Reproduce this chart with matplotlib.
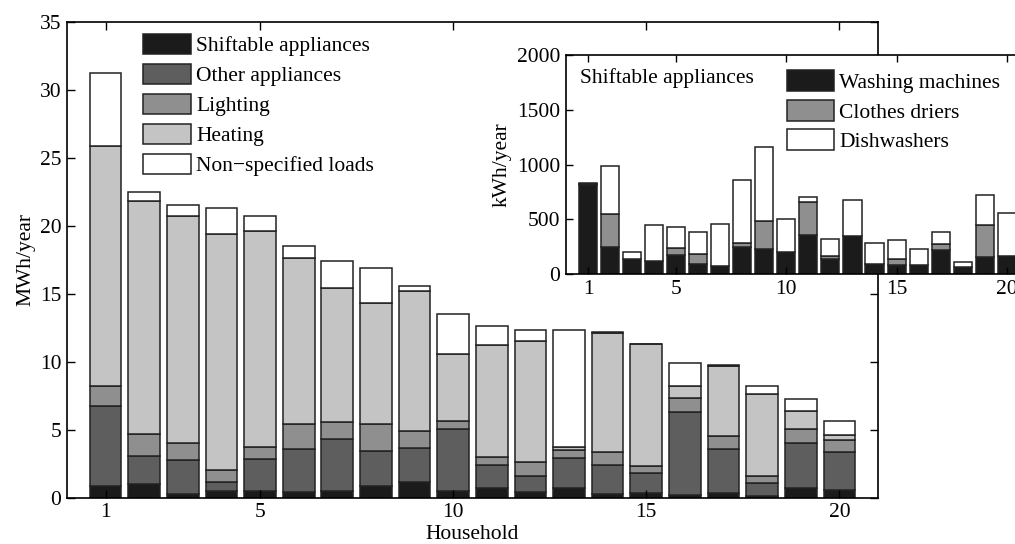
import numpy as np
import matplotlib
matplotlib.use('Agg')
import matplotlib.pyplot as plt

# Consommation annuelle par foyer (MWh/an), du bas vers le haut de chaque barre
foyers = np.arange(1, 21)
shiftable = [0.88, 1.03, 0.30, 0.50, 0.47, 0.45, 0.50, 0.88, 1.18, 0.50,
             0.75, 0.40, 0.75, 0.30, 0.37, 0.22, 0.37, 0.15, 0.75, 0.59]
other = [5.88, 2.05, 2.50, 0.67, 2.40, 3.15, 3.80, 2.57, 2.50, 4.57,
         1.65, 1.20, 2.15, 2.10, 1.46, 6.08, 3.23, 0.95, 3.25, 2.79]
lighting = [1.48, 1.62, 1.20, 0.89, 0.83, 1.84, 1.30, 1.95, 1.25, 0.59,
            0.60, 1.04, 0.60, 0.98, 0.47, 1.00, 0.96, 0.50, 1.07, 0.89]
heating = [17.66, 17.10, 16.70, 17.34, 15.90, 12.16, 9.80, 8.90, 10.27, 4.94,
           8.20, 8.86, 0.25, 8.77, 9.00, 0.93, 5.14, 6.05, 1.33, 0.36]
non_spec = [5.30, 0.70, 0.80, 1.90, 1.10, 0.90, 2.00, 2.60, 0.40, 2.90,
            1.40, 0.85, 8.60, 0.05, 0.03, 1.70, 0.03, 0.58, 0.88, 1.03]
noms = ['Shiftable appliances', 'Other appliances', 'Lighting', 'Heating',
        'Non\u2212specified loads']

# Détail des appareils déplaçables (kWh/an)
washing = [815, 246, 137, 116, 170, 91, 70, 246, 228, 198,
           359, 137, 347, 91, 79, 85, 222, 64, 152, 161]
driers = [5, 301, 0, 0, 67, 91, 0, 34, 258, 0,
          295, 24, 0, 0, 58, 0, 52, 0, 292, 0]
dishwash = [15, 435, 61, 331, 189, 198, 389, 580, 678, 304,
            51, 158, 331, 192, 170, 143, 106, 46, 276, 396]
noms_inset = ['Washing machines', 'Clothes driers', 'Dishwashers']

gris = ['#1b1b1b', '#5e5e5e', '#8f8f8f', '#c4c4c4', '#ffffff']

plt.rcParams['font.family'] = ['Liberation Serif', 'DejaVu Serif']
plt.rcParams['font.size'] = 15.5

# options communes des légendes
opts_leg = dict(loc='upper left', frameon=False, handlelength=2.2,
                handleheight=1.1, handletextpad=0.25, borderpad=0,
                borderaxespad=0)

fig = plt.figure(figsize=(10.15, 5.44), dpi=100)

# Figure principale
ax = fig.add_axes([0.066, 0.085, 0.799, 0.875])
bas = np.zeros(20)
for serie, c, nom in zip([shiftable, other, lighting, heating, non_spec], gris, noms):
    ax.bar(foyers, serie, 0.82, bottom=bas, color=c, edgecolor='#222222',
           linewidth=1.1, label=nom)
    bas += np.array(serie)
ax.set_xlim(0, 21)
ax.set_ylim(0, 35)
ax.set_xticks([1, 5, 10, 15, 20])
ax.set_yticks(np.arange(0, 36, 5))
ax.tick_params(direction='in', top=True, right=True, length=6, width=1, pad=4)
ax.set_xlabel('Household', labelpad=2)
ax.set_ylabel('MWh/year', labelpad=3)
for s in ax.spines.values():
    s.set_linewidth(1.2)
ax.legend(bbox_to_anchor=(0.094, 0.975), labelspacing=0.34, **opts_leg)

# Encart pour les appareils déplaçables
axi = fig.add_axes([0.5576, 0.4963, 0.456, 0.4026])
bas = np.zeros(20)
for serie, c, nom in zip([washing, driers, dishwash], [gris[0], gris[2], gris[4]], noms_inset):
    axi.bar(foyers, serie, 0.82, bottom=bas, color=c, edgecolor='#222222',
            linewidth=1.1, label=nom)
    bas += np.array(serie)
axi.set_xlim(0, 21)
axi.set_ylim(0, 2000)
axi.set_xticks([1, 5, 10, 15, 20])
axi.set_yticks(np.arange(0, 2001, 500))
axi.tick_params(direction='in', top=True, right=True, length=5, width=1, pad=4)
axi.set_ylabel('kWh/year', labelpad=4)
for s in axi.spines.values():
    s.set_linewidth(1.2)
axi.text(0.03, 0.895, 'Shiftable appliances', transform=axi.transAxes,
         ha='left', va='center')
axi.legend(bbox_to_anchor=(0.477, 0.93), labelspacing=0.32, **opts_leg)

plt.savefig('out.png', dpi=100)
plt.close()
